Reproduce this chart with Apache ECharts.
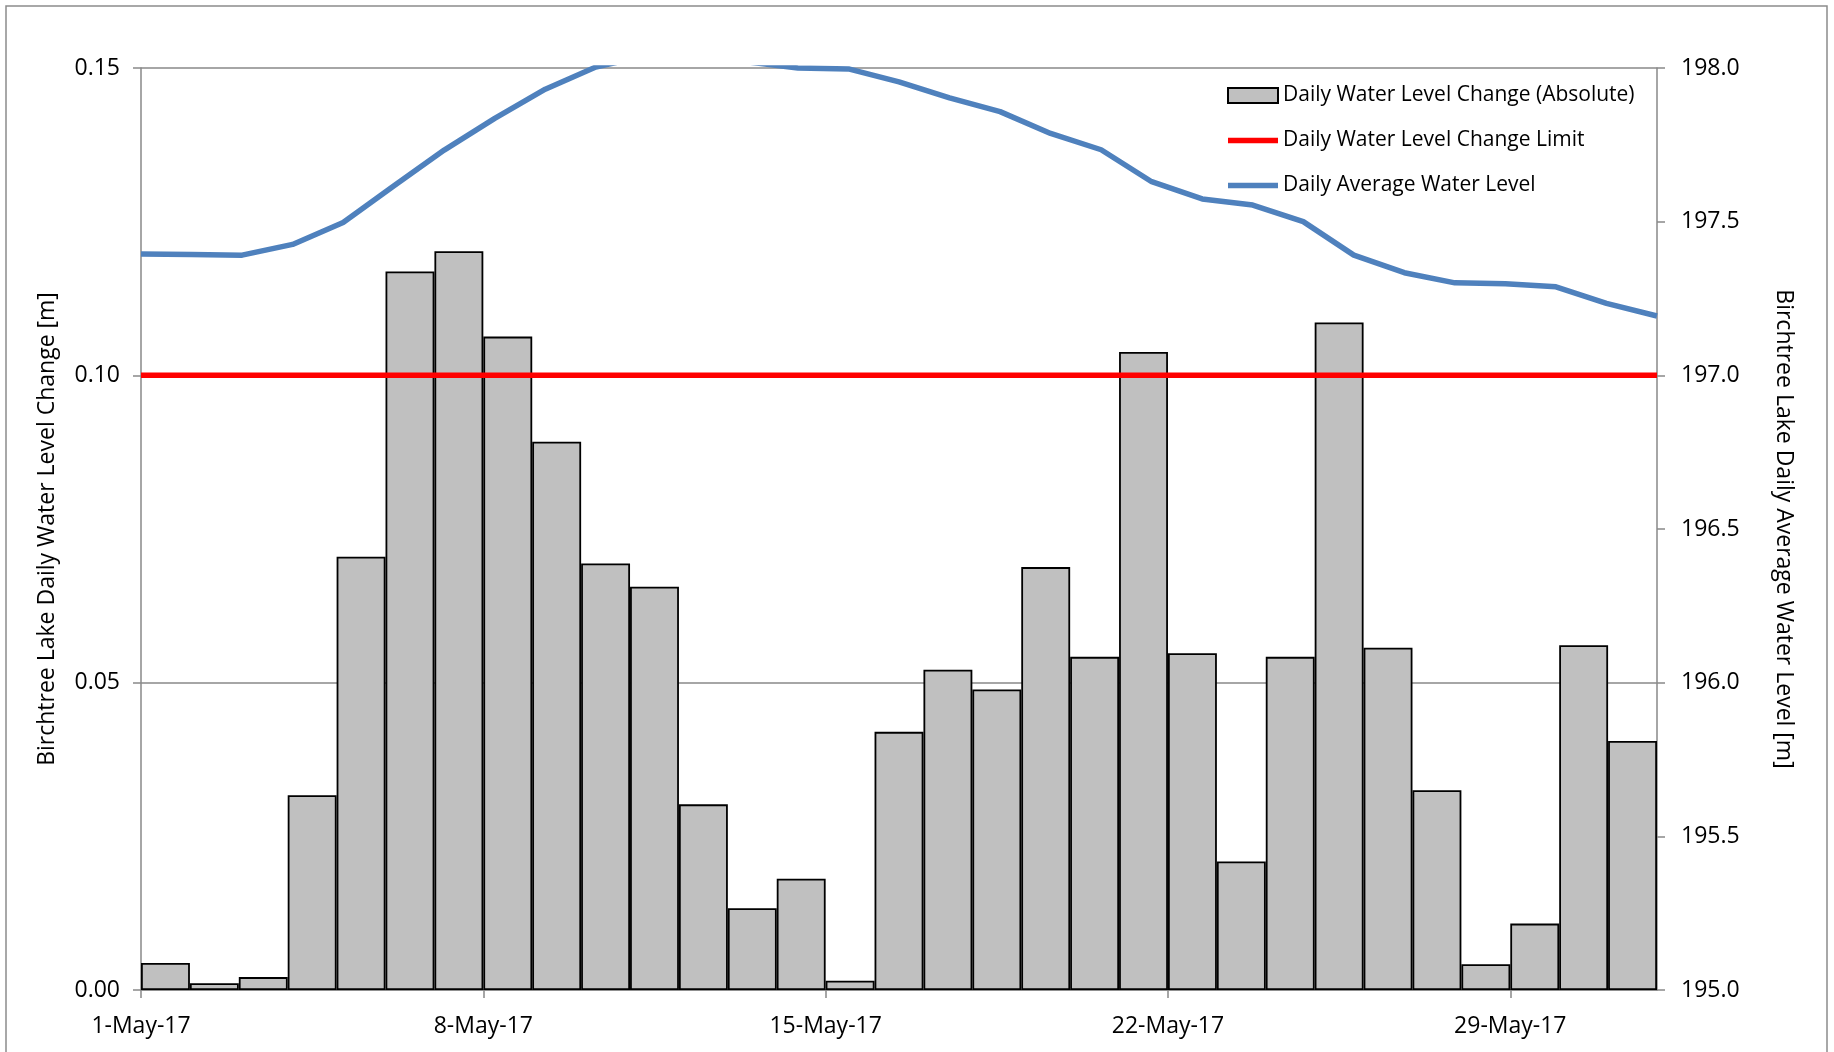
<!DOCTYPE html>
<html>
<head>
<meta charset="utf-8">
<script src="https://cdn.jsdelivr.net/npm/echarts@6/dist/echarts.min.js"></script>
<style>
  html, body { margin: 0; padding: 0; background: #fff; }
  #chart { width: 1834px; height: 1052px; }
</style>
</head>
<body>
<div id="chart"></div>
<script>
// ---- Data ----
const days = [
  '1-May-17','2-May-17','3-May-17','4-May-17','5-May-17','6-May-17','7-May-17',
  '8-May-17','9-May-17','10-May-17','11-May-17','12-May-17','13-May-17','14-May-17',
  '15-May-17','16-May-17','17-May-17','18-May-17','19-May-17','20-May-17','21-May-17',
  '22-May-17','23-May-17','24-May-17','25-May-17','26-May-17','27-May-17','28-May-17',
  '29-May-17','30-May-17','31-May-17'
];
const dailyChange = [
  0.0044, 0.0011, 0.0021, 0.0317, 0.0705, 0.1169, 0.1202,
  0.1063, 0.0892, 0.0694, 0.0656, 0.0302, 0.0133, 0.0181,
  0.0015, 0.0420, 0.0521, 0.0489, 0.0688, 0.0542, 0.1038,
  0.0548, 0.0209, 0.0542, 0.1086, 0.0557, 0.0325, 0.0042,
  0.0108, 0.0561, 0.0405
];
const changeLimit = [
  0.10, 0.10, 0.10, 0.10, 0.10, 0.10, 0.10,
  0.10, 0.10, 0.10, 0.10, 0.10, 0.10, 0.10,
  0.10, 0.10, 0.10, 0.10, 0.10, 0.10, 0.10,
  0.10, 0.10, 0.10, 0.10, 0.10, 0.10, 0.10,
  0.10, 0.10, 0.10
];
const avgLevel = [
  197.395, 197.393, 197.391, 197.426, 197.497, 197.616, 197.733,
  197.836, 197.931, 198.003, 198.040, 198.050, 198.020, 198.000,
  197.997, 197.955, 197.903, 197.858, 197.787, 197.734, 197.630,
  197.574, 197.554, 197.500, 197.391, 197.334, 197.301, 197.298,
  197.288, 197.234, 197.193
];
const tickDayIndex = [0, 7, 14, 21, 28];

const FONT = 'Open Sans';
const AXIS_GRAY = '#898989';
const LINE_ICON = 'path://M0,0H50V5.5H0Z';

const chart = echarts.init(document.getElementById('chart'), null, { renderer: 'canvas' });

chart.setOption({
  animation: false,
  backgroundColor: '#ffffff',
  textStyle: { fontFamily: FONT, color: '#000' },
  graphic: [{
    type: 'rect',
    silent: true,
    shape: { x: 6, y: 6, width: 1821, height: 1200 },
    style: { fill: 'none', stroke: '#8c8c8c', lineWidth: 1.5 }
  }],
  grid: { left: 141, right: 177, top: 68, bottom: 62, containLabel: false },
  legend: {
    orient: 'vertical',
    left: 1222,
    top: 78,
    itemWidth: 50,
    itemHeight: 15,
    itemGap: 20,
    symbolKeepAspect: true,
    textStyle: { fontFamily: FONT, fontSize: 21, color: '#000', lineHeight: 25 },
    data: [
      { name: 'Daily Water Level Change (Absolute)', icon: 'rect' },
      { name: 'Daily Water Level Change Limit', icon: LINE_ICON },
      { name: 'Daily Average Water Level', icon: LINE_ICON }
    ]
  },
  xAxis: [
    {
      type: 'category', data: days, boundaryGap: true, show: false, position: 'bottom'
    },
    {
      type: 'category', data: days, boundaryGap: false, show: false, position: 'bottom'
    },
    {
      type: 'value', min: 0, max: 31, interval: 7, position: 'bottom',
      axisLine: { show: true, onZero: false, lineStyle: { color: AXIS_GRAY, width: 1.5 } },
      axisTick: { show: true, inside: false, length: 8, customValues: tickDayIndex,
                  lineStyle: { color: AXIS_GRAY, width: 1.5 } },
      axisLabel: {
        show: true, margin: 25, fontFamily: FONT, fontSize: 23, color: '#000',
        customValues: tickDayIndex,
        formatter: function (v) { return days[Math.round(v)] || ''; }
      },
      splitLine: { show: false }
    }
  ],
  yAxis: [
    {
      type: 'value', min: 0, max: 0.15, interval: 0.05, position: 'left',
      name: 'Birchtree Lake Daily Water Level Change [m]',
      nameLocation: 'middle', nameGap: 82,
      nameTextStyle: { fontFamily: FONT, fontSize: 23, color: '#000' },
      axisLine: { show: true, lineStyle: { color: AXIS_GRAY, width: 1.5 } },
      axisTick: { show: true, inside: false, length: 8, lineStyle: { color: AXIS_GRAY, width: 1.5 } },
      axisLabel: { margin: 21, fontFamily: FONT, fontSize: 23, color: '#000',
                   formatter: function (v) { return v.toFixed(2); } },
      splitLine: { show: true, lineStyle: { color: AXIS_GRAY, width: 1.5 } }
    },
    {
      type: 'value', min: 195, max: 198, interval: 0.5, position: 'right',
      name: 'Birchtree Lake Daily Average Water Level [m]',
      nameLocation: 'middle', nameGap: 115, nameRotate: -90,
      nameTextStyle: { fontFamily: FONT, fontSize: 23, color: '#000' },
      axisLine: { show: true, lineStyle: { color: AXIS_GRAY, width: 1.5 } },
      axisTick: { show: true, inside: false, length: 8, lineStyle: { color: AXIS_GRAY, width: 1.5 } },
      axisLabel: { margin: 24, fontFamily: FONT, fontSize: 23, color: '#000',
                   formatter: function (v) { return v.toFixed(1); } },
      splitLine: { show: false }
    }
  ],
  series: [
    {
      name: 'Daily Water Level Change (Absolute)',
      type: 'bar',
      xAxisIndex: 0, yAxisIndex: 0,
      data: dailyChange,
      barCategoryGap: '0%',
      itemStyle: { color: '#c0c0c0', borderColor: '#000000', borderWidth: 1.8 },
      emphasis: { disabled: true },
      z: 2
    },
    {
      name: 'Daily Water Level Change Limit',
      type: 'line',
      xAxisIndex: 1, yAxisIndex: 0,
      data: changeLimit,
      symbol: 'none',
      lineStyle: { color: '#ff0000', width: 5.5 },
      itemStyle: { color: '#ff0000' },
      emphasis: { disabled: true },
      z: 3
    },
    {
      name: 'Daily Average Water Level',
      type: 'line',
      xAxisIndex: 1, yAxisIndex: 1,
      data: avgLevel,
      symbol: 'none',
      clip: true,
      lineStyle: { color: '#4f81bd', width: 5.5 },
      itemStyle: { color: '#4f81bd' },
      emphasis: { disabled: true },
      z: 4
    }
  ]
});
</script>
</body>
</html>
